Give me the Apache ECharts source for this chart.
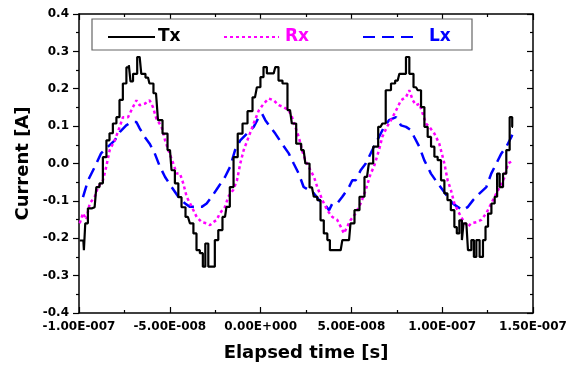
<!DOCTYPE html>
<html><head><meta charset="utf-8">
<script src="https://cdn.jsdelivr.net/npm/echarts@6/dist/echarts.min.js"></script>
<style>html,body{margin:0;padding:0;background:#fff}#c{width:582px;height:370px}</style>
</head><body><div id="c"></div>
<script>
// time in ns, current in A
const txTime = [-99.6,-97.6,-97.0,-96.1,-94.1,-91.4,-89.5,-87.9,-85.8,-84.0,-82.4,-80.3,-78.5,-76.9,-74.8,-73.0,-72.1,-71.2,-69.3,-66.6,-64.8,-62.0,-60.4,-57.6,-55.4,-52.6,-49.9,-48.2,-46.2,-44.4,-42.7,-40.0,-37.9,-36.1,-34.5,-32.4,-31.2,-29.7,-27.9,-26.2,-24.2,-22.4,-19.6,-18.0,-15.9,-13.9,-11.3,-8.6,-5.8,-3.1,-1.0,0.8,2.4,4.5,7.2,9.0,10.7,13.4,16.2,18.2,21.0,23.7,25.6,28.3,30.3,32.2,33.8,35.8,37.7,38.6,41.4,44.1,45.9,48.7,50.3,53.1,55.8,58.6,60.6,63.4,66.1,68.0,69.8,70.9,72.7,75.5,77.3,79.1,81.0,82.8,85.6,87.4,89.3,91.1,92.9,94.8,96.6,98.4,100.3,102.1,103.7,105.8,107.6,108.5,110.4,111.3,112.2,113.3,115.1,117.0,117.9,119.7,121.5,123.4,124.3,126.2,128.0,129.8,130.7,132.6,134.4,136.2,138.1,139.0];
const txCurrent = [-0.206,-0.206,-0.232,-0.16,-0.12,-0.117,-0.063,-0.053,0.017,0.062,0.081,0.107,0.124,0.17,0.214,0.257,0.263,0.22,0.24,0.285,0.24,0.23,0.214,0.188,0.116,0.08,0.036,-0.018,-0.053,-0.09,-0.117,-0.143,-0.16,-0.187,-0.232,-0.24,-0.276,-0.214,-0.276,-0.276,-0.205,-0.178,-0.143,-0.116,-0.063,0.017,0.08,0.107,0.14,0.177,0.204,0.231,0.258,0.241,0.241,0.258,0.222,0.214,0.143,0.107,0.053,0.036,0.0,-0.064,-0.089,-0.098,-0.152,-0.187,-0.205,-0.232,-0.232,-0.232,-0.205,-0.205,-0.16,-0.125,-0.089,-0.036,0.0,0.045,0.098,0.107,0.196,0.196,0.214,0.222,0.24,0.24,0.285,0.24,0.204,0.196,0.151,0.098,0.071,0.045,0.018,0.009,-0.045,-0.08,-0.098,-0.125,-0.17,-0.187,-0.152,-0.205,-0.16,-0.16,-0.232,-0.205,-0.25,-0.205,-0.25,-0.205,-0.169,-0.134,-0.107,-0.089,-0.027,-0.063,-0.027,0.036,0.124,0.098];

const rxTime = [-99.6,-97.8,-96.0,-94.1,-91.4,-89.5,-86.8,-85.0,-83.1,-80.3,-77.6,-75.8,-73.0,-70.3,-68.4,-66.6,-63.8,-61.1,-59.3,-57.4,-56.3,-54.5,-52.6,-50.8,-48.1,-46.2,-44.4,-42.6,-40.7,-37.9,-35.2,-32.4,-29.7,-27.9,-26.0,-24.2,-22.4,-19.6,-17.8,-15.0,-13.0,-11.2,-9.3,-6.6,-3.8,-1.0,1.7,4.5,7.2,10.0,12.7,15.5,17.3,19.1,21.0,22.8,24.6,26.5,29.4,31.2,34.0,36.7,39.5,42.2,44.1,45.9,47.7,49.6,52.4,55.1,57.9,60.6,62.4,65.2,67.0,69.8,71.8,74.6,77.3,80.1,81.9,83.8,85.6,87.4,89.3,91.1,92.9,95.7,98.4,101.2,103.0,104.8,106.7,108.5,110.4,112.2,114.2,116.0,118.8,121.5,124.3,127.0,129.8,131.7,134.4,136.2,138.1];
const rxCurrent = [-0.16,-0.133,-0.15,-0.107,-0.09,-0.063,-0.045,-0.009,0.036,0.062,0.098,0.124,0.124,0.151,0.169,0.156,0.16,0.169,0.151,0.12,0.116,0.098,0.062,0.036,0.0,-0.027,-0.027,-0.053,-0.089,-0.116,-0.143,-0.157,-0.16,-0.165,-0.157,-0.151,-0.133,-0.116,-0.089,-0.07,-0.045,0.0,0.036,0.071,0.107,0.142,0.16,0.174,0.169,0.156,0.151,0.142,0.124,0.098,0.071,0.036,0.009,-0.009,-0.036,-0.063,-0.098,-0.125,-0.143,-0.151,-0.169,-0.187,-0.169,-0.151,-0.133,-0.107,-0.071,-0.027,-0.009,0.036,0.071,0.1,0.116,0.142,0.169,0.178,0.196,0.169,0.156,0.16,0.133,0.107,0.098,0.08,0.053,0.0,-0.045,-0.071,-0.107,-0.125,-0.143,-0.157,-0.169,-0.16,-0.157,-0.151,-0.133,-0.107,-0.08,-0.063,-0.036,0.0,0.005];

const lxTime = [-97.8,-95.0,-91.4,-87.9,-84.0,-80.3,-77.6,-74.0,-71.2,-68.4,-66.6,-63.8,-61.1,-58.3,-55.4,-52.6,-49.0,-45.3,-41.6,-38.9,-35.2,-32.4,-29.7,-26.9,-23.3,-19.6,-16.8,-14.1,-11.2,-7.5,-3.8,-1.0,0.8,2.6,5.3,8.1,11.8,15.5,18.2,21.0,23.7,26.5,29.4,32.2,34.9,37.7,39.5,42.2,45.0,48.7,50.5,52.4,55.1,57.9,59.7,62.4,65.2,68.0,70.7,74.6,77.3,80.1,82.8,84.6,87.4,90.1,92.0,93.8,97.5,100.3,103.0,105.8,108.5,111.3,114.2,117.0,120.6,124.3,127.0,129.8,132.6,135.3,138.1,139.9];
const lxCurrent = [-0.09,-0.045,-0.01,0.027,0.045,0.062,0.084,0.102,0.111,0.111,0.094,0.071,0.053,0.027,-0.009,-0.036,-0.063,-0.089,-0.107,-0.116,-0.116,-0.116,-0.107,-0.089,-0.063,-0.036,-0.009,0.035,0.062,0.08,0.098,0.124,0.133,0.116,0.098,0.08,0.053,0.027,0.0,-0.027,-0.063,-0.071,-0.08,-0.098,-0.107,-0.125,-0.107,-0.107,-0.089,-0.063,-0.045,-0.045,-0.018,0.0,0.018,0.045,0.071,0.098,0.116,0.124,0.102,0.098,0.089,0.071,0.045,0.009,-0.009,-0.027,-0.053,-0.071,-0.089,-0.107,-0.116,-0.125,-0.116,-0.098,-0.08,-0.063,-0.027,0.0,0.027,0.045,0.071,0.093];

const xTickLabels = ['-1.00E-007','-5.00E-008','0.00E+000','5.00E-008','1.00E-007','1.50E-007'];
const yTickLabels = ['-0.4','-0.3','-0.2','-0.1','0.0','0.1','0.2','0.3','0.4'];
const seriesNames = ['Tx','Rx','Lx'];

const zip = (a,b)=>a.map((v,i)=>[v,b[i]]);
const FONT = 'DejaVu Sans';
const chart = echarts.init(document.getElementById('c'), null, {renderer:'canvas'});

const tickLbl = {fontFamily: FONT, fontSize: 12, fontWeight: 'bold', color: '#000'};
const legendCommon = {padding:0, top:27, itemHeight:14, itemStyle:{opacity:0}, textStyle:{fontFamily:FONT,fontSize:17,fontWeight:'bold',lineHeight:20}};

chart.setOption({
  animation:false,
  backgroundColor:'#fff',
  grid:{left:79,right:49,top:14,bottom:57},
  xAxis:[{
    type:'value',min:-100,max:150,interval:50,
    name:'Elapsed time [s]',nameLocation:'middle',nameGap:31,
    nameTextStyle:{fontFamily:FONT,fontSize:18,fontWeight:'bold',color:'#000'},
    axisLine:{onZero:false,lineStyle:{color:'#000',width:1.5}},
    axisTick:{inside:true,length:6,lineStyle:{color:'#000',width:1.2}},
    minorTick:{show:true,splitNumber:2,length:3,lineStyle:{color:'#000',width:1.2}},
    splitLine:{show:false},
    axisLabel:Object.assign({margin:8,formatter:v=>xTickLabels[Math.round((v+100)/50)]},tickLbl)
  },{
    type:'value',position:'top',min:-100,max:150,interval:50,
    axisLine:{onZero:false,lineStyle:{color:'#000',width:1.5}},
    axisTick:{inside:true,length:6,lineStyle:{color:'#000',width:1.2}},
    minorTick:{show:true,splitNumber:2,length:3,lineStyle:{color:'#000',width:1.2}},
    splitLine:{show:false},axisLabel:{show:false}
  }],
  yAxis:[{
    type:'value',min:-0.4,max:0.4,interval:0.1,
    name:'Current [A]',nameLocation:'middle',nameGap:47,
    nameTextStyle:{fontFamily:FONT,fontSize:18,fontWeight:'bold',color:'#000'},
    axisLine:{onZero:false,lineStyle:{color:'#000',width:1.5}},
    axisTick:{inside:false,length:6,lineStyle:{color:'#000',width:1.2}},
    minorTick:{show:true,splitNumber:2,length:3,lineStyle:{color:'#000',width:1.2}},
    splitLine:{show:false},
    axisLabel:Object.assign({margin:10,formatter:v=>yTickLabels[Math.round((v+0.4)*10)]},tickLbl)
  },{
    type:'value',position:'right',min:-0.4,max:0.4,interval:0.1,
    axisLine:{onZero:false,lineStyle:{color:'#000',width:1.5}},
    axisTick:{inside:true,length:6,lineStyle:{color:'#000',width:1.2}},
    minorTick:{show:true,splitNumber:2,length:3,lineStyle:{color:'#000',width:1.2}},
    splitLine:{show:false},axisLabel:{show:false}
  }],
  graphic:[{type:'rect',shape:{x:92,y:19,width:380,height:31},style:{fill:'#fff',stroke:'#666',lineWidth:1.2},z:5}],
  legend:[
    Object.assign({left:107,itemWidth:47,itemGap:0,data:[seriesNames[0]],z:10},legendCommon,{textStyle:Object.assign({},legendCommon.textStyle,{color:'#000',padding:[0,0,0,-2]})}),
    Object.assign({left:223,itemWidth:55,itemGap:0,data:[seriesNames[1]],z:10},legendCommon,{textStyle:Object.assign({},legendCommon.textStyle,{color:'#ff00ff',padding:[0,0,0,1]})}),
    Object.assign({left:362,itemWidth:53,itemGap:0,data:[seriesNames[2]],z:10},legendCommon,{textStyle:Object.assign({},legendCommon.textStyle,{color:'#0000ff',padding:[0,0,0,8]})})
  ],
  series:[
    {name:seriesNames[0],type:'line',data:zip(txTime,txCurrent),step:'middle',symbol:'none',
     lineStyle:{color:'#000',width:2.2},itemStyle:{color:'#000'},z:3},
    {name:seriesNames[1],type:'line',data:zip(rxTime,rxCurrent),symbol:'none',
     lineStyle:{color:'#ff00ff',width:2.5,type:[3,3]},itemStyle:{color:'#ff00ff'},z:2},
    {name:seriesNames[2],type:'line',data:zip(lxTime,lxCurrent),symbol:'none',
     lineStyle:{color:'#0000ff',width:2.5,type:[12,7]},itemStyle:{color:'#0000ff'},z:1}
  ]
});
</script></body></html>
